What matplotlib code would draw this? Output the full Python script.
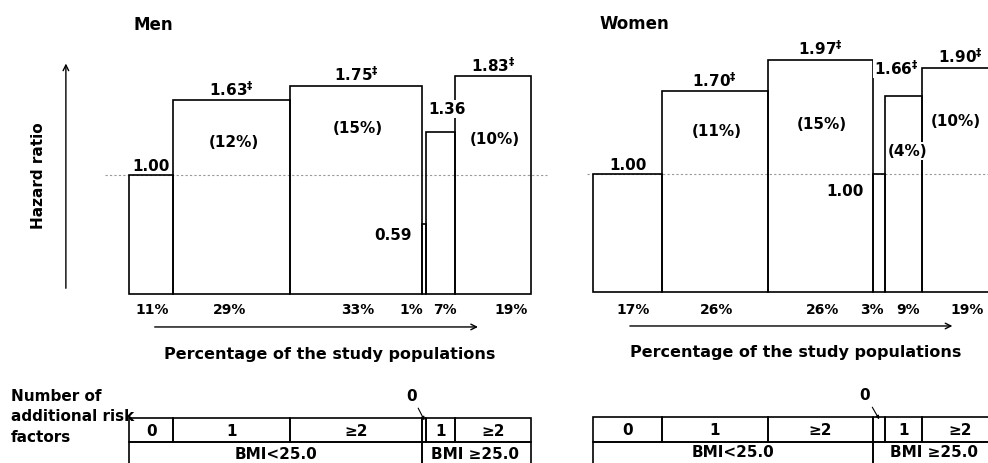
import numpy as np
import matplotlib.pyplot as plt
from matplotlib.patches import Rectangle

plt.rcParams['font.family'] = ['DejaVu Sans']
plt.rcParams['font.weight'] = 'bold'

# datos: porcentaje de la población, hazard ratio y fracción atribuible
grupos_riesgo = ['0', '1', '≥2', '', '1', '≥2']
grupos_bmi = ['BMI<25.0', 'BMI ≥25.0']
n_bmi_bajo = 3

hombres_pct = [11, 29, 33, 1, 7, 19]
hombres_hr = [1.00, 1.63, 1.75, 0.59, 1.36, 1.83]
hombres_sig = ['', '‡', '‡', '', '', '‡']
hombres_paf = ['', '(12%)', '(15%)', '', '', '(10%)']

mujeres_pct = [17, 26, 26, 3, 9, 19]
mujeres_hr = [1.00, 1.70, 1.97, 1.00, 1.66, 1.90]
mujeres_sig = ['', '‡', '‡', '', '‡', '‡']
mujeres_paf = ['', '(11%)', '(15%)', '', '(4%)', '(10%)']

FS = 11


def dibujar_panel(ax, titulo, pct, hr, sig, paf, estilo):
    """Dibuja un panel (hombres o mujeres)"""
    pct = np.array(pct, dtype=float)
    hr = np.array(hr)
    izq = np.concatenate([[0], np.cumsum(pct)[:-1]])
    centro = izq + pct / 2

    ax.set_xlim(0, 100)
    ax.set_ylim(0, 2)
    ax.axis('off')

    # barras
    ax.bar(izq, hr, width=pct, align='edge', fill=False, edgecolor='black',
           linewidth=1.2, clip_on=False, zorder=2)

    # línea de referencia en 1.00
    ax.plot(estilo['ref_x'], [1, 1], color='#999999', lw=0.8, ls=(0, (2, 2)),
            clip_on=False, zorder=1)

    # etiquetas de hazard ratio
    for i in range(len(hr)):
        txt = f'{hr[i]:.2f}'
        if sig[i]:
            txt += r'$^{\mathrm{‡}}$'
        dx, y, ha, va = estilo['hr_pos'].get(i, (0, hr[i] + 0.02, 'center', 'bottom'))
        t = ax.text(centro[i] + dx, y, txt, ha=ha, va=va, fontsize=FS,
                    clip_on=False, zorder=3)
        if i in estilo['hr_fondo']:
            t.set_bbox(dict(facecolor='white', edgecolor='none', pad=1))

    # fracción atribuible entre paréntesis
    for i in range(len(paf)):
        if paf[i]:
            dx, dy = estilo['paf_pos'][i]
            t = ax.text(centro[i] + dx, hr[i] - dy, paf[i], ha='center', va='center',
                        fontsize=FS, clip_on=False, zorder=3)
            if i in estilo['paf_fondo']:
                t.set_bbox(dict(facecolor='white', edgecolor='none', pad=1))

    # porcentajes debajo
    for i in range(len(pct)):
        ax.text(centro[i] + estilo['pct_dx'][i], estilo['pct_y'], f'{int(pct[i])}%',
                ha='center', va='center', fontsize=10, clip_on=False)

    # flecha horizontal y texto
    ax.annotate('', xy=(estilo['flecha_x'][1], estilo['flecha_y']),
                xytext=(estilo['flecha_x'][0], estilo['flecha_y']),
                arrowprops=dict(arrowstyle='->', lw=1.0, color='black'),
                annotation_clip=False)
    ax.text(50, estilo['flecha_y'] - 0.22, 'Percentage of the study populations',
            ha='center', va='center', fontsize=11.5, clip_on=False)

    ax.text(estilo['titulo_x'], estilo['titulo_y'], titulo, ha='left', va='center',
            fontsize=12, clip_on=False)

    # tabla inferior
    y1, y2, y3 = estilo['tabla_y']
    for i in range(len(pct)):
        ax.add_patch(Rectangle((izq[i], y2), pct[i], y1 - y2, fill=False,
                               edgecolor='black', lw=1.2, clip_on=False))
        if grupos_riesgo[i]:
            ax.text(centro[i], (y1 + y2) / 2, grupos_riesgo[i], ha='center',
                    va='center', fontsize=FS, clip_on=False)
    corte = izq[n_bmi_bajo]
    ax.add_patch(Rectangle((0, y3), corte, y2 - y3, fill=False,
                           edgecolor='black', lw=1.2, clip_on=False))
    ax.add_patch(Rectangle((corte, y3), 100 - corte, y2 - y3, fill=False,
                           edgecolor='black', lw=1.2, clip_on=False))
    ax.text(corte / 2 + estilo['bmi_dx'][0], (y2 + y3) / 2 + 0.03, grupos_bmi[0],
            ha='center', va='center', fontsize=FS, clip_on=False)
    ax.text((corte + 100) / 2 + estilo['bmi_dx'][1], (y2 + y3) / 2 + 0.03, grupos_bmi[1],
            ha='center', va='center', fontsize=FS, clip_on=False)

    # "0" con línea hacia la celda estrecha
    ax.annotate('0', xy=(centro[3], y1 - 0.02),
                xytext=(centro[3] + estilo['cero_dx'], y1 + 0.19),
                ha='center', va='center', fontsize=FS,
                arrowprops=dict(arrowstyle='-|>', lw=0.8, color='black',
                                mutation_scale=5, shrinkA=2, shrinkB=0),
                annotation_clip=False)


fig = plt.figure(figsize=(9.88, 4.64), dpi=100)
W, H = 988, 464

# hombres
ax1 = fig.add_axes([129 / W, (H - 295) / H, 402 / W, 238 / H])
estilo_h = {
    'ref_x': [-6, 104],
    'hr_pos': {3: (-3.2, 0.50, 'right', 'center'),
               4: (1.7, 1.555, 'center', 'center')},
    'hr_fondo': [4],
    'paf_pos': {1: (0.6, 0.345), 2: (0.5, 0.35), 5: (0.5, 0.52)},
    'paf_fondo': [],
    'pct_dx': [0.3, -0.5, 0.5, -3.2, 1.0, 4.5],
    'pct_y': -0.126,
    'flecha_x': [5.7, 87.5],
    'flecha_y': -0.277,
    'titulo_x': 1.0,
    'titulo_y': 2.27,
    'tabla_y': [-1.042, -1.244, -1.5],
    'bmi_dx': [0, -0.5],
    'cero_dx': -3.2,
}
dibujar_panel(ax1, 'Men', hombres_pct, hombres_hr, hombres_sig, hombres_paf, estilo_h)

# eje vertical con flecha
ax1.annotate('', xy=(-15.7, 1.96), xytext=(-15.7, 0.025),
             arrowprops=dict(arrowstyle='->', lw=1.0, color='black'),
             annotation_clip=False)
ax1.text(-22.4, 1.0, 'Hazard ratio', rotation=90, ha='center', va='center',
         fontsize=FS, clip_on=False)

# mujeres
ax2 = fig.add_axes([593 / W, (H - 293) / H, 406 / W, 236 / H])
estilo_m = {
    'ref_x': [-1.5, 104],
    'hr_pos': {3: (-3.8, 0.856, 'right', 'center'),
               4: (-1.8, 1.905, 'center', 'center')},
    'hr_fondo': [4],
    'paf_pos': {1: (0.5, 0.33), 2: (0.4, 0.54), 4: (1.0, 0.465), 5: (-1.2, 0.45)},
    'paf_fondo': [4],
    'pct_dx': [1.5, 0.5, 0.5, -1.7, 1.2, 1.7],
    'pct_y': -0.144,
    'flecha_x': [8.4, 89.2],
    'flecha_y': -0.288,
    'titulo_x': 1.7,
    'titulo_y': 2.28,
    'tabla_y': [-1.059, -1.271, -1.5],
    'bmi_dx': [0, -0.5],
    'cero_dx': -3.5,
}
dibujar_panel(ax2, 'Women', mujeres_pct, mujeres_hr, mujeres_sig, mujeres_paf, estilo_m)

fig.text(11 / W, 1 - 417 / H, 'Number of\nadditional risk\nfactors', ha='left', va='center',
         fontsize=FS, linespacing=1.45)

plt.savefig('out.png', dpi=100)
